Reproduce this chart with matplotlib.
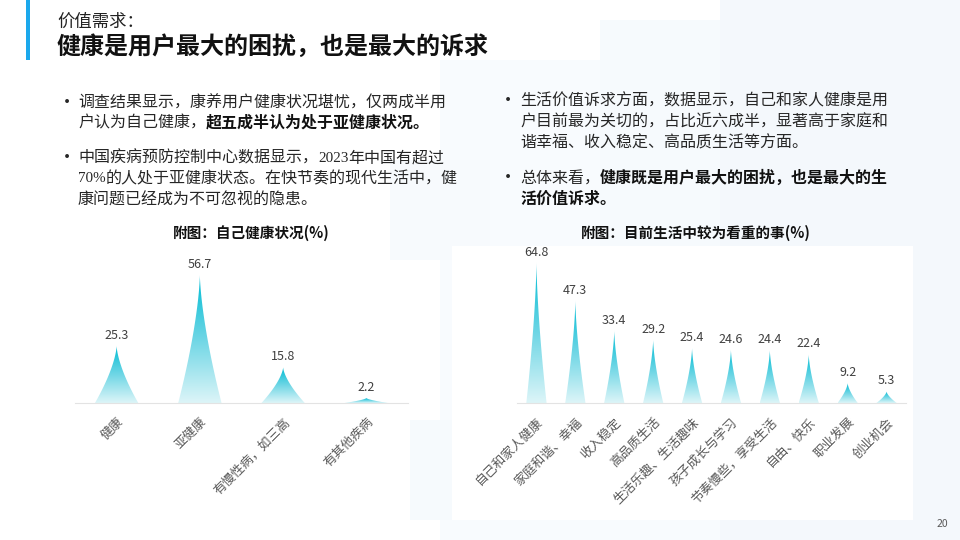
import numpy as np
import matplotlib
matplotlib.use("Agg")
import matplotlib.pyplot as plt
from matplotlib.path import Path
from matplotlib.patches import PathPatch, Rectangle
from matplotlib.colors import LinearSegmentedColormap

plt.rcParams["font.family"] = ["Noto Sans CJK SC", "DejaVu Sans"]

# chart data
health_cats = ["健康", "亚健康", "有慢性病，如三高", "有其他疾病"]
health_vals = [25.3, 56.7, 15.8, 2.2]
care_cats = ["自己和家人健康", "家庭和谐、幸福", "收入稳定", "高品质生活", "生活乐趣、生活趣味",
             "孩子成长与学习", "节奏慢些，享受生活", "自由、快乐", "职业发展", "创业机会"]
care_vals = [64.8, 47.3, 33.4, 29.2, 25.4, 24.6, 24.4, 22.4, 9.2, 5.3]

subtitle = "价值需求："
title = "健康是用户最大的困扰，也是最大的诉求"
chart1_title = "附图：自己健康状况(%)"
chart2_title = "附图：目前生活中较为看重的事(%)"

# bullet text as runs: (text, style) with style n=normal, b=bold, s=serif
left_lines = [
    [("调查结果显示，康养用户健康状况堪忧，仅两成半用", "n")],
    [("户认为自己健康，", "n"), ("超五成半认为处于亚健康状况。", "b")],
    [("中国疾病预防控制中心数据显示，", "n"), ("2023", "s"), ("年中国有超过", "n")],
    [("70%", "s"), ("的人处于亚健康状态。在快节奏的现代生活中，健", "n")],
    [("康问题已经成为不可忽视的隐患。", "n")],
]
right_lines = [
    [("生活价值诉求方面，数据显示，自己和家人健康是用", "n")],
    [("户目前最为关切的，占比近六成半，显著高于家庭和", "n")],
    [("谐幸福、收入稳定、高品质生活等方面。", "n")],
    [("总体来看，", "n"), ("健康既是用户最大的困扰，也是最大的生", "b")],
    [("活价值诉求。", "b")],
]

W, H = 960, 540
fig = plt.figure(figsize=(9.6, 5.4), dpi=100)
bg = fig.add_axes([0, 0, 1, 1])
bg.set_xlim(0, W)
bg.set_ylim(H, 0)
bg.axis("off")

# faint background blocks
for x0, y0, w, h, c in [(440, 60, 520, 480, "#F8FBFE"), (720, 0, 240, 540, "#F4F8FC"),
                        (390, 160, 100, 100, "#F7FAFD"), (600, 20, 120, 240, "#F6FAFD"),
                        (390, 420, 70, 100, "#F6FAFD")]:
    bg.add_patch(Rectangle((x0, y0), w, h, color=c, lw=0, zorder=0))
bg.add_patch(Rectangle((75, 260), 335, 280, color="white", lw=0, zorder=1))
bg.add_patch(Rectangle((452, 246), 461, 274, color="white", lw=0, zorder=1))

bg.add_patch(Rectangle((26, 0), 3.5, 60, color="#1BA8EC", lw=0, zorder=2))
bg.text(57, 22, subtitle, fontsize=12.5, color="#222222", va="center", ha="left", zorder=3)
bg.text(57, 47, title, fontsize=17.3, fontweight="bold", color="#111111", va="center", ha="left", zorder=3)

fig.canvas.draw()
renderer = fig.canvas.get_renderer()


def draw_runs(x, y, runs, size=11.5):
    for txt, style in runs:
        kw = dict(fontsize=size, color="#262626", va="center", ha="left", zorder=3)
        if style == "b":
            kw.update(fontweight="bold", color="#111111")
        elif style == "s":
            kw.update(family=["Liberation Serif", "DejaVu Serif"], fontsize=size * 0.95)
        t = bg.text(x, y, txt, **kw)
        x += t.get_window_extent(renderer).width


for (lines, xb, xt, ys, bullets) in [(left_lines, 67, 78, [103, 123, 158, 179, 200], (0, 2)),
                                     (right_lines, 508, 520, [101, 122, 143, 178, 199], (0, 3))]:
    for k, (runs, y) in enumerate(zip(lines, ys)):
        if k in bullets:
            bg.text(xb, y, "•", fontsize=13, color="#262626", va="center", ha="center", zorder=3)
        draw_runs(xt, y, runs)

bg.text(251, 233, chart1_title, fontsize=10.5, fontweight="bold", color="#111111",
        ha="center", va="center", zorder=3)
bg.text(696, 233, chart2_title, fontsize=10.5, fontweight="bold", color="#111111",
        ha="center", va="center", zorder=3)
bg.text(942, 524, "20", fontsize=7.5, color="#595959", ha="center", va="center", zorder=3)

cmap = LinearSegmentedColormap.from_list("spike", ["#DDF5F8", "#6ED6E5", "#00BCD4"])
grad = np.linspace(0, 1, 256).reshape(-1, 1)


def spike_chart(rect_px, cats, vals, ymax, width):
    x0, x1, ytop, ybase = rect_px
    ax = fig.add_axes([x0 / W, 1 - ybase / H, (x1 - x0) / W, (ybase - ytop) / H])
    ax.set_zorder(5)
    ax.patch.set_alpha(0)
    n = len(cats)
    hw = width / 2
    t = np.linspace(0, 1, 60)
    prof = (1 - t) ** 1.5
    for i, v in enumerate(vals):
        xs = np.concatenate([i - hw * prof, (i + hw * prof)[::-1]])
        ys = np.concatenate([t * v, (t * v)[::-1]])
        patch = PathPatch(Path(np.column_stack([xs, ys])), facecolor="none", edgecolor="none")
        ax.add_patch(patch)
        im = ax.imshow(grad, cmap=cmap, origin="lower", aspect="auto",
                       extent=(i - hw, i + hw, 0, v), zorder=2)
        im.set_clip_path(patch)
        ax.annotate(f"{v}", (i, v), xytext=(0, 3), textcoords="offset points",
                    ha="center", va="bottom", fontsize=9, color="#404040")
    ax.set_xlim(-0.5, n - 0.5)
    ax.set_ylim(0, ymax)
    for s in ["top", "right", "left"]:
        ax.spines[s].set_visible(False)
    ax.spines["bottom"].set_color("#E3E3E3")
    ax.set_yticks([])
    ax.set_xticks(range(n))
    ax.set_xticklabels(cats, rotation=45, ha="right", rotation_mode="anchor",
                       fontsize=9.2, color="#595959")
    ax.tick_params(axis="x", length=0, pad=9)
    return ax


spike_chart((75, 408, 260, 403), health_cats, health_vals, 63.4, 0.52)
spike_chart((517, 906, 250, 403), care_cats, care_vals, 70.8, 0.52)

fig.savefig("out.png", dpi=100)
